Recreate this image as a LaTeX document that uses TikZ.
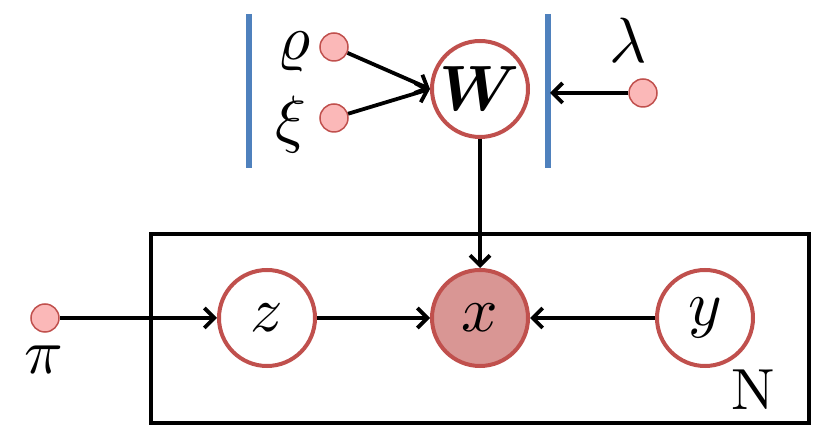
\documentclass[tikz,border=0pt]{standalone}
\usepackage{graphicx}
\usepackage{bm}
\usetikzlibrary{arrows.meta}
\definecolor{nodered}{HTML}{C0504D}
\definecolor{obsfill}{HTML}{D99694}
\definecolor{dotfill}{HTML}{FBB8B8}
\definecolor{barblue}{HTML}{4F81BD}
\newcommand{\mysym}[1]{\scalebox{6.4}{#1}}
\tikzset{
  latent/.style={circle, draw=nodered, line width=4pt, fill=white, minimum size=96pt, inner sep=0pt},
  observed/.style={latent, fill=obsfill},
  hyper/.style={circle, draw=nodered, line width=1.5pt, fill=dotfill, minimum size=28pt, inner sep=0pt},
  lbl/.style={inner sep=0pt},
  edge/.style={line width=3.8pt, -{Straight Barb[length=10pt,width=20pt,line width=3.8pt]}},
  plate/.style={draw=black, line width=4pt},
  bar/.style={draw=barblue, line width=5.5pt}
}
\begin{document}
\begin{tikzpicture}[x=1pt,y=-1pt]
\useasboundingbox (0,0) rectangle (831,443);
% plate
\draw[plate] (151,234) rectangle (809,423);
\node[lbl] (N) at (753,390) {\scalebox{5.8}{N}};
% blue bars
\draw[bar] (249,14) -- (249,168);
\draw[bar] (548,14) -- (548,168);
% nodes
\node[latent] (W) at (480,89) {\mysym{$\bm{W}$}};
\node[latent] (z) at (267,318) {\mysym{$z$}};
\node[observed] (x) at (480,318) {\mysym{$x$}};
\node[latent] (y) at (705,318) {\mysym{$y$}};
\node[hyper] (rho) at (334,47) {};
\node[hyper] (xi) at (334,118) {};
\node[hyper] (lam) at (643,93) {};
\node[hyper] (pi) at (45,318) {};
\coordinate (lamend) at (550,93);
% labels
\node[lbl] (rholbl) at (294,52) {\mysym{$\varrho$}};
\node[lbl] (xilbl) at (291,125) {\mysym{$\xi$}};
\node[lbl] (lamlbl) at (628,40) {\mysym{$\lambda$}};
\node[lbl] (pilbl) at (44,360) {\mysym{$\pi$}};
% edges
\draw[edge] (rho) -- (W.west);
\draw[edge] (xi) -- (W.west);
\draw[edge] (lam) -- (lamend);
\draw[edge] (W) -- (x);
\draw[edge] (pi) -- (z);
\draw[edge] (z) -- (x);
\draw[edge] (y) -- (x);
\end{tikzpicture}
\end{document}
